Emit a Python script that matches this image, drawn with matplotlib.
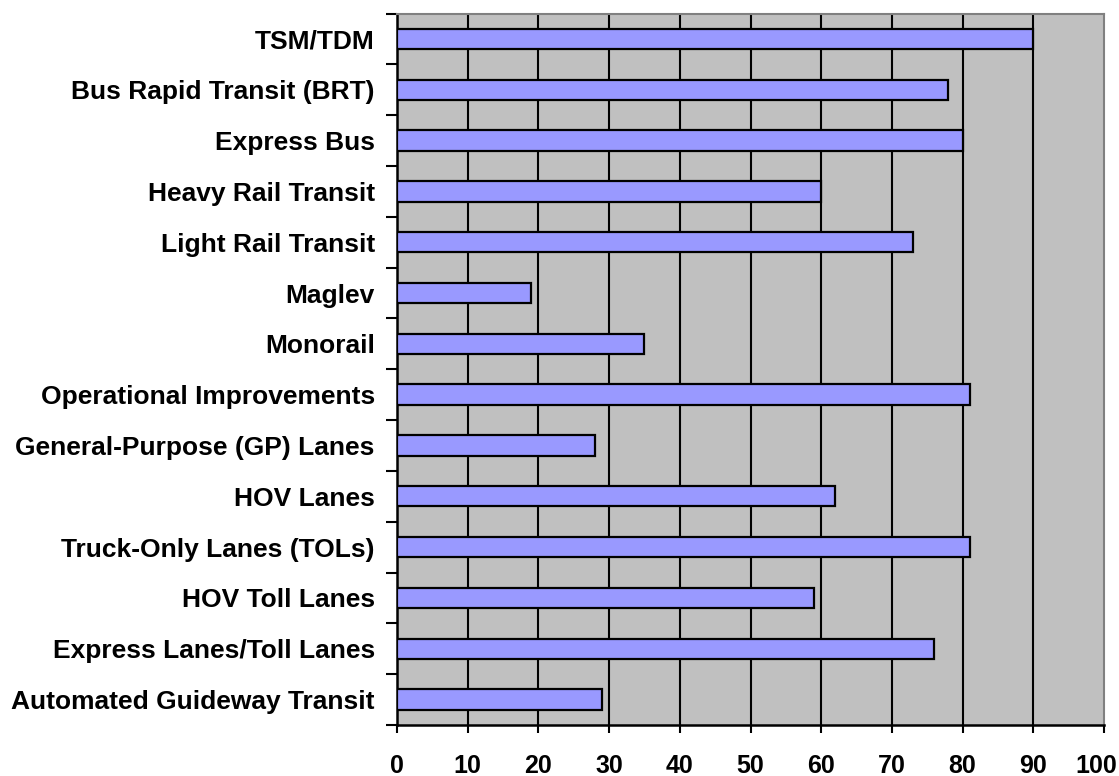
import matplotlib.pyplot as plt
import matplotlib.transforms as mtransforms
import numpy as np

categories = ['TSM/TDM', 'Bus Rapid Transit (BRT)', 'Express Bus', 'Heavy Rail Transit',
              'Light Rail Transit', 'Maglev', 'Monorail', 'Operational Improvements',
              'General-Purpose (GP) Lanes', 'HOV Lanes', 'Truck-Only Lanes (TOLs)',
              'HOV Toll Lanes', 'Express Lanes/Toll Lanes', 'Automated Guideway Transit']
values = [90, 78, 80, 60, 73, 19, 35, 81, 28, 62, 81, 59, 76, 29]
xticks = list(range(0, 101, 10))

plt.rcParams['font.family'] = ['Liberation Sans', 'DejaVu Sans']

fig = plt.figure(figsize=(11.19, 7.76), dpi=100)
ax = fig.add_axes([397/1119, 1-725/776, (1104-397)/1119, (725-13.5)/776])
ax.set_facecolor('#C0C0C0')

n = len(categories)
pos = np.arange(n)
ax.barh(pos, values, height=0.4, color='#9999FF', edgecolor='black', linewidth=1.6, zorder=3)

ax.set_xlim(0, 100)
ax.set_ylim(n - 0.5, -0.5)
ax.set_xticks(xticks)
ax.set_xticklabels([str(t) for t in xticks], fontsize=18, fontweight='bold')
ax.tick_params(axis='x', length=6, width=1.5, pad=15)
for t in xticks[1:-1]:
    ax.axvline(t, color='black', linewidth=1.5, zorder=1)

# last label pulled in a little so it stays inside the figure
last = ax.get_xticklabels()[-1]
last.set_transform(last.get_transform() + mtransforms.ScaledTranslation(-8/100, 0, fig.dpi_scale_trans))

# category labels at centres, tick marks at boundaries
ax.set_yticks(pos)
ax.set_yticklabels(categories, fontsize=19, fontweight='bold')
ax.tick_params(axis='y', which='major', length=0, pad=16)
ax.set_yticks(np.arange(-0.5, n, 1.0), minor=True)
ax.tick_params(axis='y', which='minor', length=8, width=1.5)

for s in ['left', 'bottom']:
    ax.spines[s].set_color('black')
    ax.spines[s].set_linewidth(1.8)
for s in ['top', 'right']:
    ax.spines[s].set_color('#808080')
    ax.spines[s].set_linewidth(1.5)

plt.savefig('out.png', dpi=100)
